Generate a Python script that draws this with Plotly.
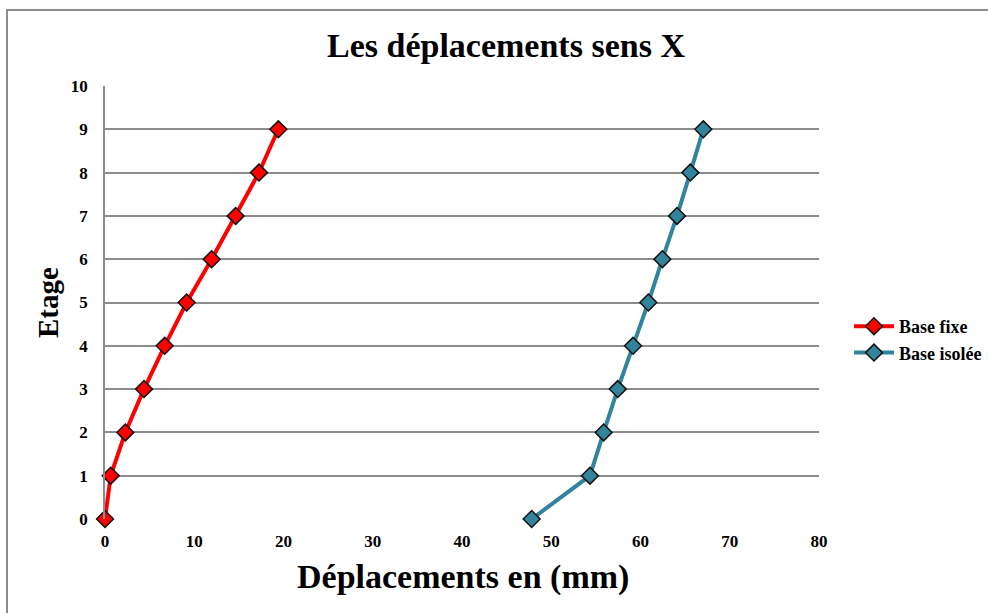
import plotly.graph_objects as go

# Storey levels and lateral displacements (mm) along X
etages = [0, 1, 2, 3, 4, 5, 6, 7, 8, 9]
base_fixe = [0.0, 0.64, 2.28, 4.37, 6.69, 9.15, 11.95, 14.64, 17.25, 19.42]
base_isolee = [47.81, 54.34, 55.87, 57.45, 59.16, 60.88, 62.45, 64.09, 65.58, 67.04]

x_ticks = [0, 10, 20, 30, 40, 50, 60, 70, 80]
y_ticks = [0, 1, 2, 3, 4, 5, 6, 7, 8, 9, 10]

W, H = 988, 613
L, R, T, B = 105, 0, 86, 94
PW, PH = W - L - R, H - T - B
PLOT_RIGHT = 819  # right end of the gridlines, in pixels


def px(x):
    return (x - L) / PW


def py(y):
    return (H - B - y) / PH


FONT = "Liberation Serif"

fig = go.Figure()
fig.add_trace(go.Scatter(
    x=base_fixe, y=etages, mode="lines+markers", name="<b>Base fixe</b>",
    line=dict(color="#ff0000", width=4), cliponaxis=False,
    marker=dict(symbol="diamond", size=13, color="#ff0000",
                line=dict(color="#111111", width=1.5)),
))
fig.add_trace(go.Scatter(
    x=base_isolee, y=etages, mode="lines+markers", name="<b>Base isolée</b>",
    line=dict(color="#31849b", width=4), cliponaxis=False,
    marker=dict(symbol="diamond", size=13, color="#31849b",
                line=dict(color="#111111", width=1.5)),
))

tick_font = dict(family=FONT, size=17, color="black", weight="bold")

fig.update_layout(
    width=W, height=H,
    margin=dict(l=L, r=R, t=T, b=B, autoexpand=False),
    paper_bgcolor="white", plot_bgcolor="white",
    font=dict(family=FONT, color="black"),
    showlegend=True,
    legend=dict(x=px(849), y=py(308), xanchor="left", yanchor="top",
                font=dict(family=FONT, size=18, color="black"),
                itemwidth=40, bgcolor="rgba(0,0,0,0)"),
    xaxis=dict(domain=[0, px(PLOT_RIGHT)], range=[0, 80], tickvals=x_ticks,
               showgrid=False, zeroline=False, showline=False, ticks="",
               tickfont=tick_font, ticklabelstandoff=10, fixedrange=True),
    yaxis=dict(range=[0, 10], tickvals=y_ticks, showgrid=True,
               gridcolor="#8c8c8c", gridwidth=1.5, zeroline=False,
               showline=True, linecolor="#8c8c8c", linewidth=1.5,
               ticks="", tickfont=tick_font,
               ticklabelstandoff=12, fixedrange=True),
    annotations=[
        dict(text="<b>Les déplacements sens X</b>", x=px(506), y=py(46),
             xref="paper", yref="paper", xanchor="center", yanchor="middle",
             showarrow=False, font=dict(family=FONT, size=34, color="black")),
        dict(text="<b>Déplacements en (mm)</b>", x=px(463), y=py(577),
             xref="paper", yref="paper", xanchor="center", yanchor="middle",
             showarrow=False, font=dict(family=FONT, size=34, color="black")),
        dict(text="<b>Etage</b>", x=px(48), y=py(303), textangle=-90,
             xref="paper", yref="paper", xanchor="center", yanchor="middle",
             showarrow=False, font=dict(family=FONT, size=29, color="black")),
    ],
    shapes=[
        dict(type="line", xref="paper", yref="paper", x0=px(6), x1=px(992),
             y0=py(10), y1=py(10), line=dict(color="#8c8c8c", width=2)),
        dict(type="line", xref="paper", yref="paper", x0=px(7), x1=px(7),
             y0=py(10), y1=py(616), line=dict(color="#8c8c8c", width=2)),
    ],
)

fig.write_html("out.html")
